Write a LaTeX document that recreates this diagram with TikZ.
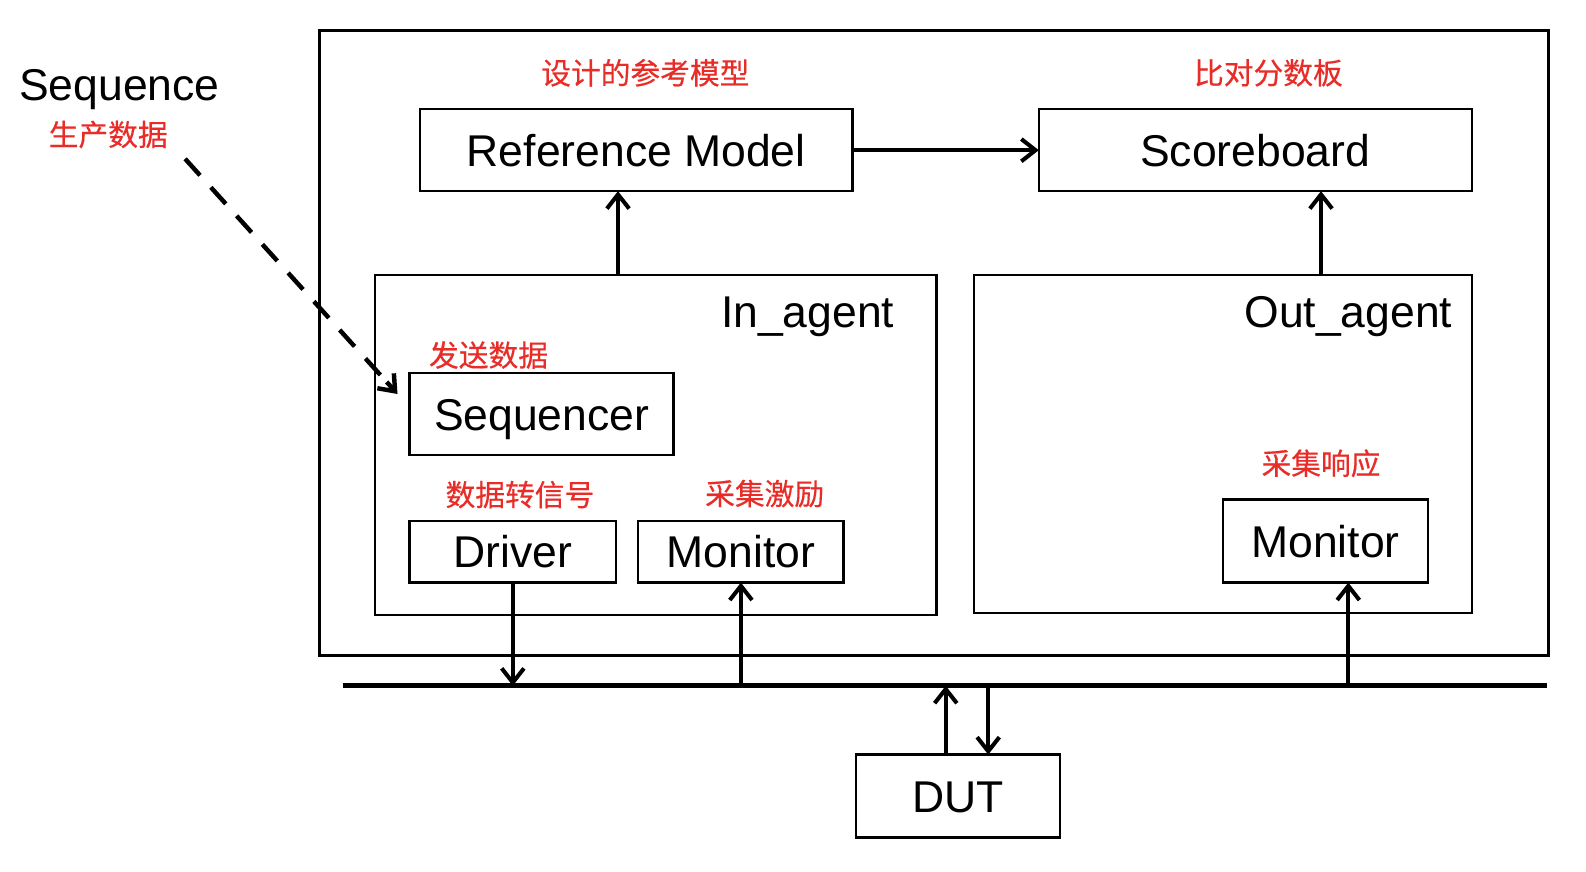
\documentclass[tikz,border=0pt]{standalone}
\usepackage{fontspec}
\setmainfont{Liberation Sans}
\newfontfamily\cjk{Noto Sans CJK SC}[FakeBold=0.4]
\usetikzlibrary{arrows.meta,calc}
\definecolor{rojo}{RGB}{232,44,40}

\begin{document}
\begin{tikzpicture}[x=0.5pt, y=-0.5pt,
		caja/.style={draw, line width=1.2pt, inner sep=0pt, outer sep=0pt, text height=16pt, text depth=0pt, font=\fontsize{22}{26}\selectfont},
		texto/.style={inner sep=0pt, text height=16pt, text depth=0pt, font=\fontsize{22}{26}\selectfont},
		etiq/.style={inner sep=0pt, text=rojo, font=\cjk\fontsize{14.7}{17}\selectfont},
		flecha/.style={line width=2pt, -{Straight Barb[length=7pt,width=11pt]}}]
		\useasboundingbox (0,0) rectangle (1568,862);
		
		% Entorno
		\node[caja, minimum width=607.5pt, minimum height=309pt] (entorno) at (923.5,339) {};
		
		% Modelo y marcador
		\node[caja, minimum width=214pt, minimum height=40.5pt] (refmodel) at (629,148.5) {Reference Model};
		\node[caja, minimum width=214pt, minimum height=40.5pt] (scoreboard) at (1241,148.5) {Scoreboard};
		
		% Agentes
		\node[caja, minimum width=277.5pt, minimum height=168pt] (inagent) at (648.5,440) {};
		\node[caja, minimum width=246pt, minimum height=167pt] (outagent) at (1209,439) {};
		\node[texto] (inlbl) at (798.5,308) {In\_agent};
		\node[texto] (outlbl) at (1333,308) {Out\_agent};
		
		% Componentes
		\node[caja, minimum width=130.5pt, minimum height=40.5pt] (sequencer) at (535.5,409.5) {Sequencer};
		\node[caja, minimum width=102pt, minimum height=30.5pt] (driver) at (507,545.5) {Driver};
		\node[caja, minimum width=101.5pt, minimum height=30.5pt] (monin) at (732.5,545.5) {Monitor};
		\node[caja, minimum width=101.5pt, minimum height=41pt] (monout) at (1310.5,535) {Monitor};
		\node[caja, minimum width=101pt, minimum height=41pt] (dut) at (947,787) {DUT};
		
		% Textos
		\node[texto] (seqtxt) at (118,83) {Sequence};
		\node[etiq] (lblseq) at (107,133) {生产数据};
		\node[etiq] (lblref) at (638,72) {设计的参考模型};
		\node[etiq] (lblsco) at (1254,72) {比对分数板};
		\node[etiq] (lblsend) at (483,351) {发送数据};
		\node[etiq] (lbldrv) at (514,489) {数据转信号};
		\node[etiq] (lblmin) at (756,488) {采集激励};
		\node[etiq] (lblmout) at (1306,458) {采集响应};
		
		% Bus
		\coordinate (busl) at (339,678);
		\coordinate (busr) at (1529,678);
		\draw[line width=2.5pt] (busl) -- (busr);
		
		% Flechas
		\draw[flecha] ([xshift=-9pt]refmodel.south |- inagent.north) -- ([xshift=-9pt]refmodel.south);
		\draw[flecha] (refmodel) -- (scoreboard);
		\draw[flecha] ([xshift=32.5pt]scoreboard.south |- outagent.north) -- ([xshift=32.5pt]scoreboard.south);
		\draw[flecha] (driver.south) -- (driver.south |- busl);
		\draw[flecha] (monin.south |- busl) -- (monin.south);
		\draw[flecha] ([xshift=11.25pt]monout.south |- busl) -- ([xshift=11.25pt]monout.south);
		\draw[flecha] ([xshift=-6pt]dut.north) -- ([xshift=-6pt]dut.north |- busl);
		\draw[flecha] ([xshift=15pt]dut.north |- busl) -- ([xshift=15pt]dut.north);
		
		% Secuencia al sequencer
		\coordinate (dini) at (183,157);
		\coordinate (dfin) at ([xshift=-6pt,yshift=10pt]sequencer.west);
		\draw[line width=2.2pt, dash pattern=on 11pt off 8pt] (dini) -- ($(dfin)!6pt!(dini)$);
		\draw[flecha, line width=2.2pt] ($(dfin)!8pt!(dini)$) -- (dfin);
	\end{tikzpicture}
\end{document}
